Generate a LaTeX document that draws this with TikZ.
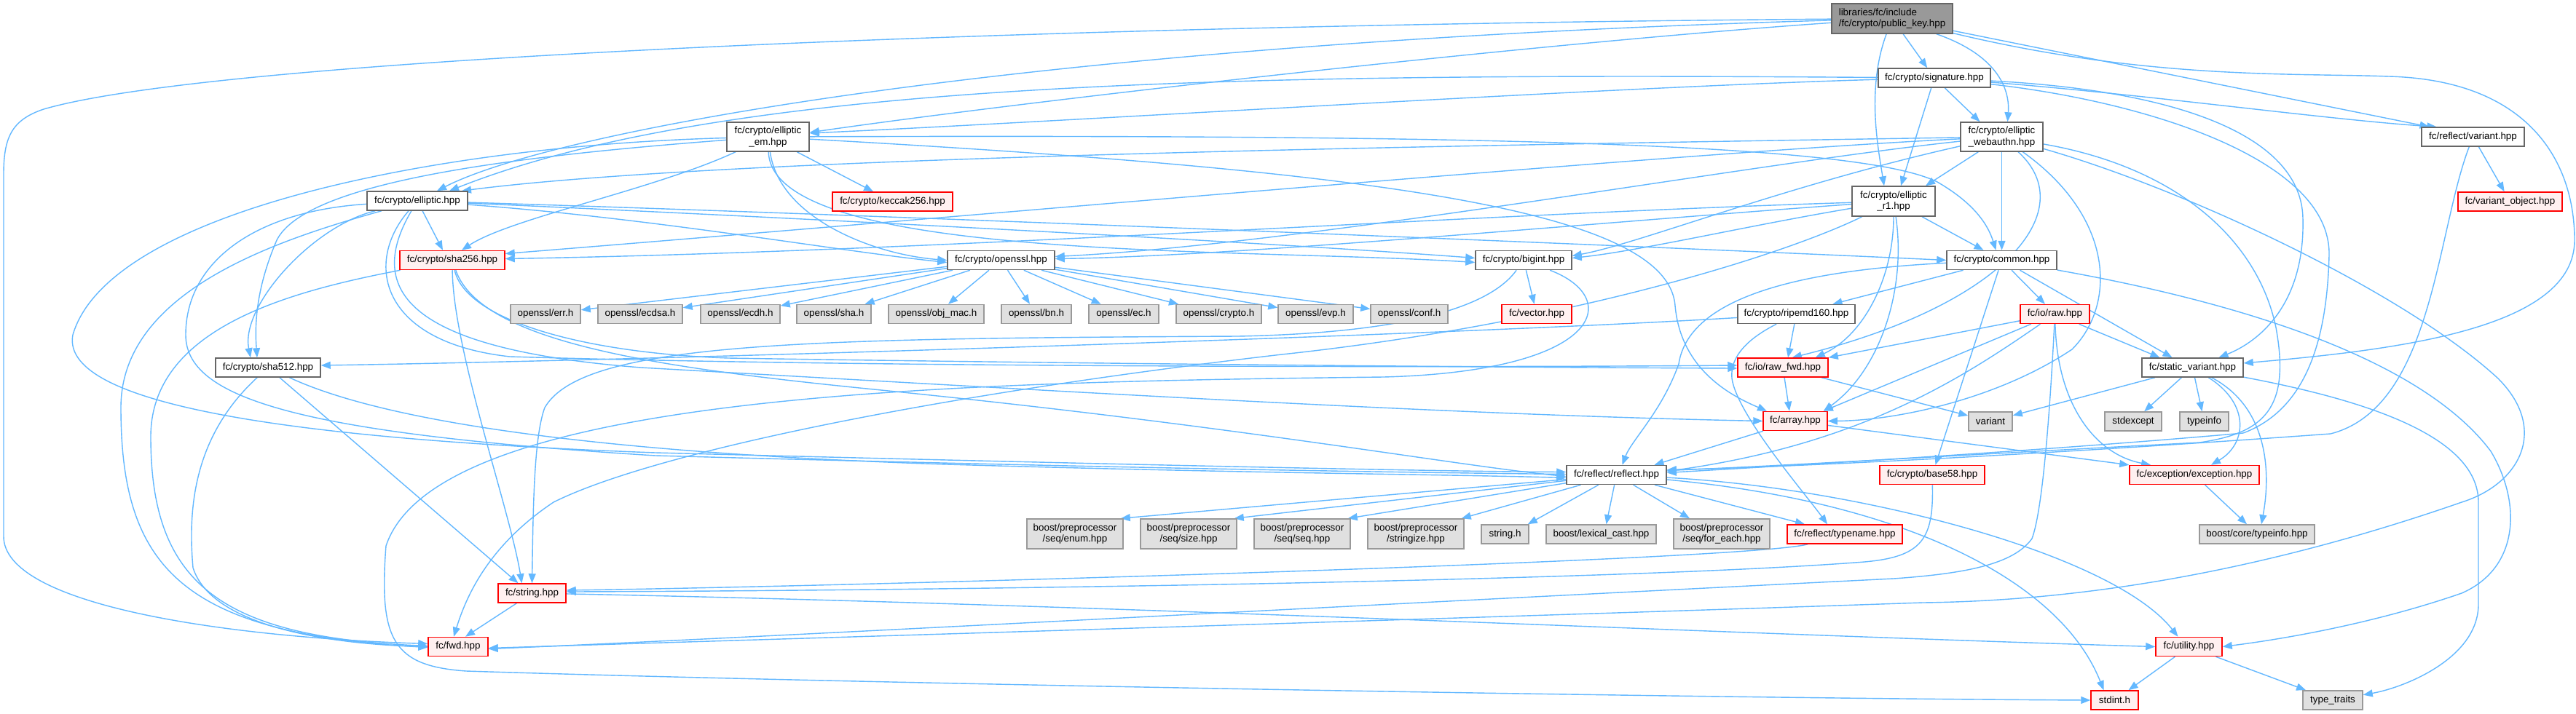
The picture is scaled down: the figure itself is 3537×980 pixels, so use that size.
\documentclass[tikz,border=0pt]{standalone}
\usepackage{fontspec}
\setmainfont{Liberation Sans}
\usetikzlibrary{arrows.meta}
\definecolor{edgec}{HTML}{63B8FF}
\definecolor{nborder}{HTML}{666666}
\definecolor{rborder}{HTML}{FF0000}
\definecolor{rfill}{HTML}{FFF0F0}
\definecolor{gfill}{HTML}{E0E0E0}
\definecolor{gborder}{HTML}{999999}
\definecolor{rootfill}{HTML}{999999}
\pgfdeclarelayer{back}
\pgfdeclarelayer{bg}
\pgfsetlayers{back,bg,main}
\begin{document}
\begin{tikzpicture}[x=1pt,y=-1pt,
  box/.style={draw=nborder, fill=white, line width=1.5pt, inner sep=0pt, align=center,
    font=\fontsize{13.4}{15.5}\selectfont, minimum height=26pt},
  rbox/.style={box, draw=rborder, fill=rfill},
  gbox/.style={box, draw=gborder, fill=gfill},
  rootbox/.style={box, fill=rootfill, align=left},
  e/.style={draw=edgec, line width=1.4pt, -{Triangle[length=13pt,width=10pt]}}]
\useasboundingbox (0,0) rectangle (3537,980);
\begin{pgfonlayer}{back}
\fill[white] (0,0) rectangle (3537,980);
\end{pgfonlayer}

% ---------- nodes ----------
\node[rootbox, minimum width=166pt, minimum height=41pt] (pk) at (2598,25.5) {libraries/fc/include\\/fc/crypto/public\_key.hpp};
\node[box, minimum width=154pt] (sig) at (2656,107) {fc/crypto/signature.hpp};
\node[box, minimum width=113pt, minimum height=40pt] (webauthn) at (2748.5,188) {fc/crypto/elliptic\\\_webauthn.hpp};
\node[box, minimum width=141pt] (variant) at (3395.5,188) {fc/reflect/variant.hpp};
\node[rbox, minimum width=143pt] (varobj) at (3446.5,277) {fc/variant\_object.hpp};
\node[box, minimum width=114pt, minimum height=41pt] (r1) at (2600,276.5) {fc/crypto/elliptic\\\_r1.hpp};
\node[box, minimum width=151pt] (common) at (2748.5,357.5) {fc/crypto/common.hpp};
\node[rbox, minimum width=95pt] (raw) at (2821.5,431.5) {fc/io/raw.hpp};
\node[box, minimum width=132pt] (bigint) at (2092,357.5) {fc/crypto/bigint.hpp};
\node[rbox, minimum width=96pt] (vector) at (2110,431.5) {fc/vector.hpp};
\node[box, minimum width=161pt] (ripemd) at (2466.5,431.5) {fc/crypto/ripemd160.hpp};
\node[box, minimum width=113pt, minimum height=40pt] (em) at (1054.5,188) {fc/crypto/elliptic\\\_em.hpp};
\node[rbox, minimum width=165pt] (keccak) at (1225.5,277) {fc/crypto/keccak256.hpp};
\node[box, minimum width=147pt] (openssl) at (1374.5,357.5) {fc/crypto/openssl.hpp};
\node[gbox, minimum width=96pt] (err) at (749,431.5) {openssl/err.h};
\node[gbox, minimum width=116pt] (ecdsa) at (879,431.5) {openssl/ecdsa.h};
\node[gbox, minimum width=109pt] (ecdh) at (1016.5,431.5) {openssl/ecdh.h};
\node[gbox, minimum width=102pt] (sha) at (1145,431.5) {openssl/sha.h};
\node[gbox, minimum width=131pt] (objmac) at (1285.5,431.5) {openssl/obj\_mac.h};
\node[gbox, minimum width=96pt] (bn) at (1423,431.5) {openssl/bn.h};
\node[gbox, minimum width=96pt] (ec) at (1543,431.5) {openssl/ec.h};
\node[gbox, minimum width=117pt] (cryptoh) at (1673.5,431.5) {openssl/crypto.h};
\node[gbox, minimum width=103pt] (evp) at (1806.5,431.5) {openssl/evp.h};
\node[gbox, minimum width=106pt] (conf) at (1935,431.5) {openssl/conf.h};
\node[box, minimum width=138pt] (elliptic) at (573,276) {fc/crypto/elliptic.hpp};
\node[rbox, minimum width=144pt] (sha256) at (621,357.5) {fc/crypto/sha256.hpp};
\node[box, minimum width=144pt] (sha512) at (368,505) {fc/crypto/sha512.hpp};
\node[rbox, minimum width=93pt] (string) at (730.5,815) {fc/string.hpp};
\node[rbox, minimum width=82pt] (fwd) at (629,888.5) {fc/fwd.hpp};
\node[gbox, minimum width=132pt, minimum height=41pt] (enum) at (1476,733.5) {boost/preprocessor\\/seq/enum.hpp};
\node[gbox, minimum width=132pt, minimum height=41pt] (size) at (1632,733.5) {boost/preprocessor\\/seq/size.hpp};
\node[gbox, minimum width=132pt, minimum height=41pt] (seq) at (1788,733.5) {boost/preprocessor\\/seq/seq.hpp};
\node[gbox, minimum width=132pt, minimum height=41pt] (stringize) at (1944,733.5) {boost/preprocessor\\/stringize.hpp};
\node[gbox, minimum width=65pt] (stringh) at (2066.5,734) {string.h};
\node[gbox, minimum width=151pt] (lexical) at (2198.5,734) {boost/lexical\_cast.hpp};
\node[gbox, minimum width=132pt, minimum height=41pt] (foreach) at (2364,733.5) {boost/preprocessor\\/seq/for\_each.hpp};
\node[rbox, minimum width=158pt] (typename) at (2533,734) {fc/reflect/typename.hpp};
\node[rbox, minimum width=144pt] (base58) at (2653,652.5) {fc/crypto/base58.hpp};
\node[box, minimum width=137pt] (reflect) at (2219.5,652.5) {fc/reflect/reflect.hpp};
\node[rbox, minimum width=124pt] (rawfwd) at (2448,505) {fc/io/raw\_fwd.hpp};
\node[rbox, minimum width=88pt] (array) at (2465,578.5) {fc/array.hpp};
\node[box, minimum width=139pt] (svar) at (3010.5,505) {fc/static\_variant.hpp};
\node[gbox, minimum width=60pt] (variantx) at (2733,579) {variant};
\node[gbox, minimum width=78pt] (stdexcept) at (2929,579) {stdexcept};
\node[gbox, minimum width=67pt] (typeinfo) at (3026.5,579) {typeinfo};
\node[rbox, minimum width=178pt] (exception) at (3013,652.5) {fc/exception/exception.hpp};
\node[gbox, minimum width=158pt] (btypeinfo) at (3099,734) {boost/core/typeinfo.hpp};
\node[rbox, minimum width=91pt] (utility) at (3005.5,888.5) {fc/utility.hpp};
\node[rbox, minimum width=65pt] (stdint) at (2903.5,962) {stdint.h};
\node[gbox, minimum width=82pt] (typetraits) at (3203,962) {type\_traits};

% ---------- edges ----------
\begin{pgfonlayer}{bg}
% public_key
\draw[e] (pk) -- (sig);
\draw[e] (pk) .. controls (2563,120) and (2578,200) .. ([xshift=-13pt]r1.north);
\draw[e] (pk) .. controls (2740,75) and (2760,120) .. ([xshift=8pt]webauthn.north);
\draw[e] (pk) -- ([xshift=-60pt]variant.north);
\draw[e] (pk) .. controls (2950,110) and (3150,100) .. (3280,105) .. controls (3470,110) and (3535,220) .. (3535,330) .. controls (3535,450) and (3300,480) .. (svar);
\draw[e] (pk) .. controls (1400,60) and (760,180) .. ([xshift=27pt]elliptic.north);
\draw[e] (pk) .. controls (2100,60) and (1400,140) .. ([yshift=6pt]em.east);
\draw[e] (pk) .. controls (1400,35) and (300,80) .. (60,150) .. controls (15,165) and (5,190) .. (5,240) -- (5,737) .. controls (5,830) and (300,875) .. ([yshift=4pt]fwd.west);
% signature
\draw[e] (sig) .. controls (1700,100) and (1000,110) .. ([xshift=44pt]elliptic.north);
\draw[e] (sig) .. controls (2200,120) and (1500,165) .. ([yshift=5pt]em.east);
\draw[e] (sig) -- ([xshift=10pt]r1.north);
\draw[e] (sig) -- ([xshift=-30pt]webauthn.north);
\draw[e] (sig) .. controls (2950,130) and (3200,165) .. ([xshift=-50pt]variant.north);
\draw[e] (sig) .. controls (3000,125) and (3160,190) .. (3162,300) .. controls (3165,420) and (3100,470) .. ([xshift=36pt]svar.north);
\draw[e] (sig) .. controls (2950,140) and (3200,220) .. (3198,350) .. controls (3195,480) and (3160,565) .. (3080,595) .. controls (2800,620) and (2450,640) .. ([yshift=3pt]reflect.east);
% webauthn
\draw[e] (webauthn) .. controls (2000,200) and (1000,215) .. ([xshift=61pt]elliptic.north);
\draw[e] (webauthn) -- ([xshift=44pt]r1.north);
\draw[e] (webauthn) -- (common);
\draw[e] (webauthn) .. controls (2450,255) and (2250,335) .. ([yshift=6pt]bigint.east);
\draw[e] (webauthn) .. controls (2400,225) and (1800,335) .. ([yshift=5pt]openssl.east);
\draw[e] (webauthn) .. controls (2300,210) and (1300,300) .. ([yshift=9pt]sha256.east);
\draw[e] (webauthn) .. controls (2860,290) and (2750,420) .. ([xshift=-50pt]rawfwd.north east);
\draw[e] (webauthn) .. controls (2905,300) and (2905,420) .. (2845,480) .. controls (2740,550) and (2600,578) .. (array.east);
\draw[e] (webauthn) .. controls (2990,230) and (3100,330) .. (3125,450) .. controls (3145,560) and (3110,595) .. (3020,608) .. controls (2750,622) and (2450,640) .. ([yshift=6pt]reflect.east);
\draw[e] (webauthn) .. controls (3000,260) and (3300,400) .. (3430,520) .. controls (3500,590) and (3460,665) .. (3380,690) .. controls (3150,770) and (2900,825) .. (2640,828) .. controls (2000,850) and (1000,880) .. ([yshift=-2pt]fwd.east);
% elliptic_r1
\draw[e] (r1) -- ([xshift=-25pt]common.north);
\draw[e] (r1) .. controls (2600,380) and (2560,460) .. ([xshift=-18pt]rawfwd.north east);
\draw[e] (r1) .. controls (2618,400) and (2580,510) .. ([xshift=-6pt]array.north east);
\draw[e] (r1) .. controls (2000,295) and (1300,345) .. ([yshift=2pt]sha256.east);
\draw[e] (r1) .. controls (2200,305) and (1700,352) .. ([yshift=2pt]openssl.east);
\draw[e] (r1) .. controls (2400,310) and (2250,345) .. ([yshift=3pt]bigint.east);
\draw[e] (r1) .. controls (2450,350) and (2150,445) .. (1760,487) .. controls (1300,540) and (900,620) .. (760,690) .. controls (670,750) and (640,820) .. ([xshift=-6pt]fwd.north);
% elliptic_em
\draw[e] (em) -- (keccak);
\draw[e] (em) .. controls (900,260) and (700,300) .. ([xshift=13pt]sha256.north);
\draw[e] (em) .. controls (1070,300) and (1200,350) .. (openssl.west);
\draw[e] (em) .. controls (1060,360) and (1700,340) .. ([yshift=-3pt]bigint.west);
\draw[e] (em) .. controls (2000,185) and (2550,195) .. (2660,250) .. controls (2712,280) and (2730,310) .. ([xshift=-8pt]common.north);
\draw[e] (em) .. controls (1900,235) and (2290,290) .. (2300,420) .. controls (2308,510) and (2380,545) .. ([xshift=-39pt]array.north);
\draw[e] (em) .. controls (700,215) and (420,250) .. (380,330) .. controls (350,400) and (350,450) .. ([xshift=-15pt]sha512.north);
\draw[e] (em) .. controls (600,200) and (150,290) .. (100,460) .. controls (85,540) and (300,600) .. (900,622) .. controls (1600,640) and (2000,648) .. ([yshift=4pt]reflect.west);
% elliptic
\draw[e] (elliptic) -- ([xshift=-13pt]sha256.north);
\draw[e] (elliptic) .. controls (430,310) and (330,420) .. ([xshift=-24pt]sha512.north);
\draw[e] (elliptic) .. controls (900,300) and (1150,345) .. ([yshift=-3pt]openssl.west);
\draw[e] (elliptic) .. controls (1000,295) and (1700,330) .. ([yshift=3pt]bigint.west);
\draw[e] (elliptic) .. controls (1200,295) and (2300,340) .. (common.west);
\draw[e] (elliptic) .. controls (500,360) and (520,470) .. (700,490) .. controls (1200,505) and (2000,505) .. ([yshift=3pt]rawfwd.west);
\draw[e] (elliptic) .. controls (500,400) and (560,480) .. (880,505) .. controls (1500,540) and (2000,570) .. (array.west);
\draw[e] (elliptic) .. controls (380,330) and (166,400) .. (166,560) .. controls (166,780) and (250,870) .. ([yshift=-1pt]fwd.west);
\draw[e] (elliptic) .. controls (350,290) and (255,360) .. (255,460) .. controls (255,545) and (400,595) .. (900,626) .. controls (1600,645) and (2000,650) .. ([yshift=1pt]reflect.west);
% sha256
\draw[e] (sha256) .. controls (622,480) and (700,700) .. ([xshift=-14pt]string.north);
\draw[e] (sha256) .. controls (400,400) and (207,450) .. (207,600) .. controls (207,800) and (300,875) .. ([yshift=1pt]fwd.west);
\draw[e] (sha256) .. controls (640,440) and (800,485) .. (1000,492) .. controls (1500,500) and (2100,505) .. ([yshift=-1pt]rawfwd.west);
\draw[e] (sha256) .. controls (660,470) and (900,505) .. (1200,535) .. controls (1700,585) and (2000,640) .. ([yshift=-2pt]reflect.west);
% sha512
\draw[e] (sha512) -- ([xshift=-19pt]string.north);
\draw[e] (sha512) .. controls (265,600) and (258,700) .. (265,780) .. controls (290,860) and (450,885) .. (fwd.west);
\draw[e] (sha512) .. controls (550,590) and (900,625) .. (1300,638) .. controls (1700,650) and (2000,652) .. ([yshift=-4pt]reflect.west);
% bigint
\draw[e] (bigint) -- (vector);
\draw[e] (bigint) .. controls (2040,430) and (1900,458) .. (1700,462) .. controls (1100,465) and (800,470) .. (748,560) .. controls (733,600) and (732,700) .. (string.north);
\draw[e] (bigint) .. controls (2230,410) and (2200,510) .. (1900,518) .. controls (1300,525) and (600,540) .. (530,750) .. controls (520,880) and (540,915) .. (640,922) .. controls (1200,940) and (2400,960) .. (stdint.west);
% ripemd160
\draw[e] (ripemd) -- ([xshift=7pt]rawfwd.north);
\draw[e] (ripemd) .. controls (2400,465) and (2375,490) .. (2378,520) .. controls (2385,570) and (2480,680) .. ([xshift=-24pt]typename.north);
\draw[e] (ripemd) .. controls (2000,460) and (900,495) .. ([yshift=3pt]sha512.east);
% common
\draw[e] (common) -- ([xshift=50pt]ripemd.north);
\draw[e] (common) -- (base58);
\draw[e] (common) -- (raw);
\draw[e] ([xshift=25pt]common.south) -- ([xshift=-28pt]svar.north);
\draw[e] (common) .. controls (3100,420) and (3330,500) .. (3420,620) .. controls (3462,690) and (3460,780) .. (3380,815) .. controls (3250,860) and (3120,880) .. (utility.east);
\draw[e] (common) .. controls (2500,370) and (2320,400) .. (2305,500) .. controls (2282,565) and (2240,605) .. ([xshift=8pt]reflect.north);
% raw
\draw[e] (raw) -- (rawfwd.north east);
\draw[e] (raw) -- ([xshift=-6pt]array.north east);
\draw[e] (raw) .. controls (2700,515) and (2560,610) .. ([yshift=5pt]reflect.east);
\draw[e] (raw) .. controls (2815,560) and (2805,700) .. (2790,740) .. controls (2765,775) and (2700,788) .. (2600,795) .. controls (1800,835) and (1000,878) .. ([yshift=-3pt]fwd.east);
\draw[e] (raw) .. controls (2825,560) and (2880,625) .. ([xshift=-60pt]exception.north);
\draw[e] (raw) -- ([xshift=-45pt]svar.north);
% raw_fwd, array
\draw[e] (rawfwd) -- ([xshift=-8pt]array.north);
\draw[e] (rawfwd) -- (variantx);
\draw[e] (array) -- ([xshift=52pt]reflect.north);
\draw[e] (array) -- (exception.north west);
% static_variant
\draw[e] (svar) -- (variantx);
\draw[e] (svar) -- (stdexcept);
\draw[e] (svar) -- (typeinfo);
\draw[e] (svar) .. controls (3090,555) and (3085,610) .. ([xshift=23pt]exception.north);
\draw[e] (svar) .. controls (3115,560) and (3118,650) .. ([xshift=6pt]btypeinfo.north);
\draw[e] (svar) .. controls (3250,550) and (3403,600) .. (3403,690) -- (3403,830) .. controls (3403,905) and (3300,945) .. (typetraits);
\draw[e] (exception) -- ([xshift=-14pt]btypeinfo.north);
% variant
\draw[e] (variant) -- (varobj);
\draw[e] (variant) .. controls (3345,320) and (3340,560) .. (3200,596) .. controls (2800,625) and (2450,642) .. ([yshift=7pt]reflect.east);
% base58, typename, string, utility
\draw[e] (base58) .. controls (2655,740) and (2640,765) .. (2560,772) .. controls (2200,800) and (1200,812) .. ([yshift=2pt]string.east);
\draw[e] (typename) .. controls (2400,770) and (1200,805) .. ([yshift=4pt]string.east);
\draw[e] (string) -- ([xshift=10pt]fwd.north);
\draw[e] (string) .. controls (1500,830) and (2400,872) .. (utility.west);
\draw[e] (utility) -- (stdint);
\draw[e] (utility) -- (typetraits);
% reflect
\draw[e] (reflect) -- ([xshift=-4pt]enum.north east);
\draw[e] (reflect) -- ([xshift=-4pt]size.north east);
\draw[e] (reflect) -- ([xshift=-4pt]seq.north east);
\draw[e] (reflect) -- ([xshift=-4pt]stringize.north east);
\draw[e] (reflect) -- ([xshift=-2pt]stringh.north east);
\draw[e] (reflect) -- ([xshift=7pt]lexical.north);
\draw[e] (reflect) -- ([xshift=-44pt]foreach.north);
\draw[e] (reflect) -- ([xshift=-55pt]typename.north);
\draw[e] (reflect) .. controls (2550,670) and (2900,760) .. ([xshift=-15pt]utility.north);
\draw[e] (reflect) .. controls (2620,690) and (2830,800) .. ([xshift=-15pt]stdint.north);
% openssl
\foreach \c in {err,ecdsa,ecdh,sha,objmac,bn,ec,cryptoh,evp,conf}
  \draw[e] (openssl) -- (\c);
\end{pgfonlayer}
\end{tikzpicture}
\end{document}
